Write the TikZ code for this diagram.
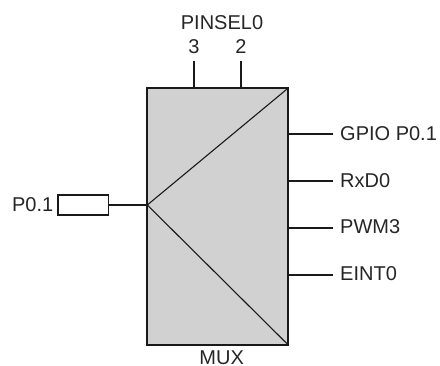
\documentclass[tikz,border=0pt]{standalone}
\usepackage{fontspec}
\setmainfont{Liberation Sans}
\begin{document}
\begin{tikzpicture}[x=1pt,y=-1pt,
  wire/.style={line width=1.1pt,color=black!90},
  lbl/.style={inner sep=0pt,font=\fontsize{20}{22}\selectfont,text=black!85,anchor=base},
  rlbl/.style={lbl,anchor=base west}]
\useasboundingbox (0,0) rectangle (440,366);
\node[draw=black!90,line width=1.7pt,fill=black!18,minimum width=141pt,minimum height=257pt,inner sep=0pt,outer sep=0pt] (mux) at (217.8,216.5) {};
\node[draw=black!90,line width=1.2pt,fill=white,minimum width=50.5pt,minimum height=20pt,inner sep=0pt,outer sep=0pt] (pin) at (83.2,205) {};
\coordinate (apex) at (mux.west |- pin.east);
\draw[wire] (mux.north east) -- (apex) -- (mux.south east);
\draw[wire] (pin.east) -- (apex);
\node[lbl,anchor=base east] (p01) at (53.5,211.5) {P0.1};
\node[lbl] (pinsel) at (222,30) {PINSEL0};
\node[lbl] (b3) at (194,53.5) {3};
\node[lbl] (b2) at (241,53.5) {2};
\coordinate (t3) at (194,61);
\coordinate (t2) at (241,61);
\draw[wire] (t3) -- (t3 |- mux.north);
\draw[wire] (t2) -- (t2 |- mux.north);
\node[rlbl] (g) at (340,140.5) {GPIO P0.1};
\node[rlbl] (r) at (340,187.3) {RxD0};
\node[rlbl] (w) at (340,234) {PWM3};
\node[rlbl] (e) at (340,280.7) {EINT0};
\coordinate (gc) at (333,134);
\coordinate (rc) at (333,181);
\coordinate (wc) at (333,228);
\coordinate (ec) at (333,275);
\draw[wire] (gc) -- (gc -| mux.east);
\draw[wire] (rc) -- (rc -| mux.east);
\draw[wire] (wc) -- (wc -| mux.east);
\draw[wire] (ec) -- (ec -| mux.east);
\node[lbl] (m) at (221.7,364.3) {MUX};
\end{tikzpicture}
\end{document}
